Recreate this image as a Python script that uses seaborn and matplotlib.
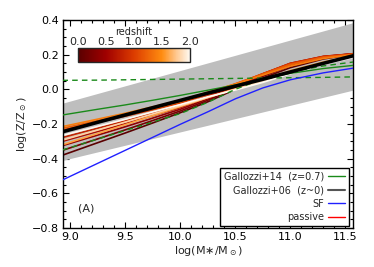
import numpy as np
import pandas as pd
import matplotlib
matplotlib.use("Agg")
import matplotlib.pyplot as plt
import seaborn as sns
from matplotlib.colors import LinearSegmentedColormap, Normalize
from matplotlib.lines import Line2D
from matplotlib.cm import ScalarMappable

# ---------------- data ----------------
mass_grid = [8.93, 9.25, 9.5, 9.75, 10.0, 10.25, 10.5, 10.75, 11.0, 11.3, 11.6]

band_x = [8.93, 11.6]
band_lo = [-0.41, 0.0]
band_hi = [-0.08, 0.39]

# passive model fan, one row per redshift
fan_z = [0.0, 0.2, 0.4, 0.6, 0.8, 1.0, 1.2, 1.4, 1.6, 1.8, 2.0]
fan_vals = [
    [-0.380, -0.308, -0.252, -0.194, -0.135, -0.072, 0.000, 0.065, 0.125, 0.175, 0.205],
    [-0.352, -0.286, -0.234, -0.180, -0.125, -0.063, 0.008, 0.075, 0.135, 0.182, 0.206],
    [-0.325, -0.264, -0.216, -0.166, -0.115, -0.055, 0.016, 0.083, 0.145, 0.188, 0.207],
    [-0.300, -0.243, -0.198, -0.152, -0.105, -0.046, 0.022, 0.088, 0.150, 0.190, 0.207],
    [-0.278, -0.224, -0.182, -0.139, -0.095, -0.038, 0.026, 0.090, 0.150, 0.190, 0.206],
    [-0.235, -0.190, -0.155, -0.118, -0.080, -0.029, 0.030, 0.090, 0.148, 0.188, 0.205],
    [-0.225, -0.181, -0.147, -0.110, -0.072, -0.021, 0.032, 0.088, 0.143, 0.185, 0.204],
    [-0.215, -0.172, -0.138, -0.101, -0.063, -0.016, 0.030, 0.082, 0.134, 0.178, 0.202],
    [-0.320, -0.255, -0.204, -0.152, -0.100, -0.048, 0.004, 0.056, 0.108, 0.158, 0.196],
    [-0.293, -0.235, -0.189, -0.142, -0.095, -0.047, 0.000, 0.048, 0.098, 0.150, 0.192],
    [-0.266, -0.214, -0.173, -0.130, -0.088, -0.043, -0.004, 0.040, 0.090, 0.144, 0.188],
]

g06_y = [-0.245, -0.190, -0.148, -0.106, -0.064, -0.022, 0.018, 0.058, 0.100, 0.150, 0.198]

g14_y = [-0.148, -0.115, -0.090, -0.063, -0.035, -0.005, 0.025, 0.060, 0.092, 0.120, 0.140]
g14_hi = [0.052, 0.053, 0.055, 0.057, 0.059, 0.061, 0.063, 0.065, 0.067, 0.069, 0.072]
g14_lo = [-0.350, -0.287, -0.238, -0.189, -0.140, -0.075, 0.000, 0.060, 0.100, 0.135, 0.160]

sf_y = [-0.523, -0.427, -0.352, -0.277, -0.202, -0.130, -0.055, 0.008, 0.055, 0.095, 0.125]

cbar_ticks = [0.0, 0.5, 1.0, 1.5, 2.0]
yticks = [-0.8, -0.6, -0.4, -0.2, 0.0, 0.2, 0.4]
xticks = [9.0, 9.5, 10.0, 10.5, 11.0, 11.5]

# ---------------- style ----------------
sns.set_style("ticks")
plt.rcParams['font.family'] = ['DejaVu Sans']
plt.rcParams['xtick.direction'] = 'in'
plt.rcParams['ytick.direction'] = 'in'

cmap = LinearSegmentedColormap.from_list(
    "redtemp",
    [(0.0, '#5a0000'), (0.25, '#a00000'), (0.5, '#dc3c00'),
     (0.75, '#ff8c10'), (0.88, '#ffc890'), (1.0, '#fffaf2')])
norm = Normalize(0, 2)

fig = plt.figure(figsize=(3.74, 2.67), dpi=100)
ax = fig.add_axes([63 / 374, 1 - 228 / 267, 290 / 374, 208 / 267])

ax.fill_between(band_x, band_lo, band_hi, color='#bebebe', lw=0, zorder=1)

fan_df = pd.DataFrame(
    [(m, v, z) for z, row in zip(fan_z, fan_vals) for m, v in zip(mass_grid, row)],
    columns=['mass', 'Z', 'z'])
sns.lineplot(data=fan_df, x='mass', y='Z', hue='z', units='z', estimator=None,
             palette=cmap, hue_norm=(0, 2), lw=1.2, legend=False, ax=ax, zorder=2)

sns.lineplot(x=mass_grid, y=g14_hi, color='#1a8a1a', lw=1.0, ls=(0, (4, 3)), ax=ax, zorder=3)
sns.lineplot(x=mass_grid, y=g14_lo, color='#1a8a1a', lw=1.0, ls=(0, (4, 3)), ax=ax, zorder=3)
sns.lineplot(x=mass_grid, y=g14_y, color='#1a8a1a', lw=1.0, ax=ax, zorder=3)
sns.lineplot(x=mass_grid, y=sf_y, color='#2020ff', lw=1.0, ax=ax, zorder=3)
sns.lineplot(x=mass_grid, y=g06_y, color='black', lw=2.6, ax=ax, zorder=4)

ax.set_xlim(8.935, 11.57)
ax.set_ylim(-0.8, 0.4)
ax.set_xticks(xticks)
ax.set_xticklabels([f"{t:.1f}" for t in xticks])
ax.set_yticks(yticks)
ax.set_yticklabels([f"{t:.1f}".replace('-', '\u2212') for t in yticks])
ax.set_xticks(np.arange(9.0, 11.6, 0.1), minor=True)
ax.set_yticks(np.arange(-0.8, 0.41, 0.05), minor=True)
ax.tick_params(which='both', top=True, right=True, labelsize=8, width=0.8, colors='black')
ax.tick_params(which='major', length=4, pad=3)
ax.tick_params(which='minor', length=2)
for s in ax.spines.values():
    s.set_linewidth(1.0)
    s.set_color('black')
ax.set_xlabel(r"log(M$\ast$/M$_\odot$)", fontsize=8, labelpad=1)
ax.set_ylabel(r"log(Z/Z$_\odot$)", fontsize=8, labelpad=2)

ax.text(9.15, -0.69, "(A)", fontsize=8, ha='center', va='center')

handles = [Line2D([], [], color='#1a8a1a', lw=1.0),
           Line2D([], [], color='#555555', lw=1.5),
           Line2D([], [], color='#2020ff', lw=1.0),
           Line2D([], [], color='red', lw=1.0)]
labels = ["Gallozzi+14  (z=0.7)", "Gallozzi+06  (z~0)", "SF", "passive"]
leg = ax.legend(handles, labels, loc='lower right', bbox_to_anchor=(0.985, 0.012),
                markerfirst=False, fontsize=7, frameon=True, fancybox=False,
                framealpha=1, edgecolor='black', labelspacing=0.35,
                handlelength=1.8, handletextpad=0.4, borderpad=0.35, borderaxespad=0)
leg.get_frame().set_linewidth(1.0)
leg._legend_box.align = "right"

cax = fig.add_axes([78 / 374, 1 - 62 / 267, 112 / 374, 14 / 267])
sm = ScalarMappable(norm=norm, cmap=cmap)
cb = fig.colorbar(sm, cax=cax, orientation='horizontal')
cb.set_ticks(cbar_ticks)
cb.set_ticklabels([f"{t:.1f}" for t in cbar_ticks])
cax.xaxis.set_ticks_position('top')
cax.xaxis.set_label_position('top')
cax.tick_params(length=0, labelsize=8, pad=1)
cb.outline.set_linewidth(1.0)
cb.set_label("redshift", fontsize=7, labelpad=1)

fig.savefig("out.png", dpi=100)
